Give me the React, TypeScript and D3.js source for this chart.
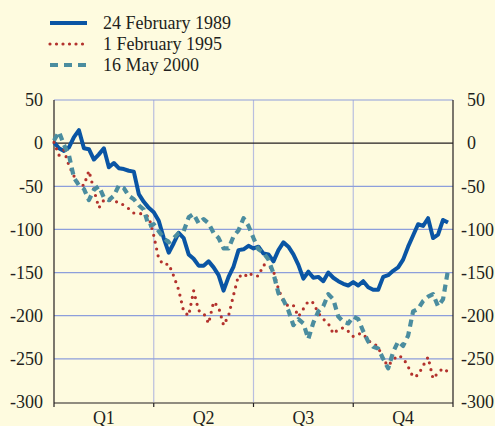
import React from 'react';
import * as d3 from 'd3';

// values sampled at equal steps through the year (80 steps)
const feb1989 = [
  1, -6, -9, -5, 7, 15, -6, -7, -19, -13, -6, -28, -23, -29, -30, -32, -33, -59, -68, -75,
  -80, -90, -110, -127, -116, -104, -110, -129, -134, -142, -142, -137, -144, -153, -171, -155, -143, -124, -123, -119,
  -122, -120, -128, -129, -137, -124, -115, -120, -129, -141, -157, -149, -156, -155, -160, -150, -156, -160, -163, -165,
  -161, -165, -160, -167, -170, -170, -155, -153, -148, -144, -135, -120, -107, -94, -96, -87, -110, -106, -89, -92,
];

const feb1995 = [
  1, -14, -8, -26, -38, -48, -49, -32, -54, -75, -66, -66, -68, -68, -72, -76, -81, -81, -83, -85,
  -107, -134, -141, -140, -154, -170, -195, -200, -171, -194, -197, -209, -184, -190, -211, -200, -176, -153, -156, -150,
  -154, -154, -141, -142, -148, -169, -183, -189, -188, -201, -192, -183, -185, -197, -204, -209, -221, -216, -214, -218,
  -224, -221, -221, -229, -232, -236, -251, -258, -251, -246, -249, -259, -271, -269, -258, -248, -273, -266, -261, -265,
];

const may2000 = [
  3, 13, -2, -14, -40, -49, -53, -66, -54, -50, -63, -66, -61, -49, -52, -61, -65, -72, -77, -96,
  -94, -102, -110, -115, -110, -104, -102, -86, -82, -93, -88, -93, -104, -110, -122, -122, -108, -101, -87, -96,
  -110, -123, -127, -135, -151, -174, -182, -194, -211, -204, -209, -227, -208, -195, -189, -175, -181, -201, -207, -209,
  -201, -204, -218, -230, -236, -238, -250, -261, -242, -230, -235, -223, -195, -192, -183, -178, -175, -189, -181, -147,
];

const quarters = ['Q1', 'Q2', 'Q3', 'Q4'];
const yTicks = [50, 0, -50, -100, -150, -200, -250, -300];

const series = [
  { name: '24 February 1989', values: feb1989, color: '#0a55a4', width: 4, dash: null, cap: 'butt' },
  { name: '1 February 1995', values: feb1995, color: '#b3322d', width: 3.2, dash: '0 7', cap: 'round' },
  { name: '16 May 2000', values: may2000, color: '#4b8d9f', width: 4.2, dash: '7 5', cap: 'butt' },
];

export default function App() {
  const width = 495;
  const height = 426;
  const left = 54;
  const right = 453;
  const top = 100;
  const bottom = 402;

  const x = d3.scaleLinear().domain([0, 80]).range([left, right]);
  const y = d3.scaleLinear().domain([-300, 50]).range([bottom, top]);
  const qx = d3.scaleBand().domain(quarters).range([left, right]);

  const line = d3.line<number>()
    .x((_, i) => x(i))
    .y(d => y(d));

  const grid = '#8d9edb';
  const vgrid = '#b9bedf';
  const ink = '#231f20';

  return (
    <svg width={width} height={height}
      style={{ position: 'absolute', left: 0, top: 0, fontFamily: "'Liberation Serif', 'Times New Roman', serif", fontSize: 18 }}
      fill={ink}>
      <rect width={width} height={height} fill="#fefbdf" />

      {/* grid */}
      {qx.domain().slice(1).map(q => (
        <line key={q} x1={qx(q)} x2={qx(q)} y1={top} y2={bottom} stroke={vgrid} strokeWidth={1.2} />
      ))}
      {yTicks.filter(t => t !== 0 && t !== -300).map(t => (
        <line key={t} x1={left} x2={right} y1={y(t)} y2={y(t)} stroke={grid} strokeWidth={1.2} />
      ))}
      <line x1={left} x2={right} y1={y(0)} y2={y(0)} stroke={ink} strokeWidth={1.2} />

      {/* axes */}
      <line x1={left} x2={left} y1={top} y2={bottom + 1} stroke={ink} strokeWidth={1.2} />
      <line x1={right} x2={right} y1={top} y2={bottom + 1} stroke={ink} strokeWidth={1.2} />
      <line x1={left} x2={right} y1={bottom + 1} y2={bottom + 1} stroke={ink} strokeWidth={1.2} />
      {[0, 20, 40, 60, 80].map(t => (
        <line key={t} x1={x(t)} x2={x(t)} y1={bottom + 1} y2={bottom + 5} stroke={ink} strokeWidth={1.2} />
      ))}

      {yTicks.map(t => (
        <g key={t}>
          <text x={43} y={y(t)} dy="0.35em" textAnchor="end">{t}</text>
          <text x={t < 0 ? 461 : 467} y={y(t)} dy="0.35em">{t}</text>
        </g>
      ))}
      {quarters.map(q => (
        <text key={q} x={(qx(q) ?? 0) + qx.bandwidth() / 2} y={424} textAnchor="middle">{q}</text>
      ))}

      {/* lines */}
      {series.map(s => (
        <path key={s.name} d={line(s.values) ?? ''} fill="none" stroke={s.color}
          strokeWidth={s.width} strokeDasharray={s.dash ?? undefined}
          strokeLinecap={s.cap as any} strokeLinejoin="round" />
      ))}

      {/* legend */}
      {series.map((s, i) => (
        <g key={s.name} transform={`translate(0,${23 + i * 21})`}>
          <line x1={50} x2={87} y1={0} y2={0} stroke={s.color} strokeWidth={s.width}
            strokeDasharray={s.dash ? (s.cap === 'round' ? '0 6.5' : '8 6') : undefined}
            strokeLinecap={s.cap as any} />
          <text x={103} y={0} dy="0.35em">{s.name}</text>
        </g>
      ))}
    </svg>
  );
}
